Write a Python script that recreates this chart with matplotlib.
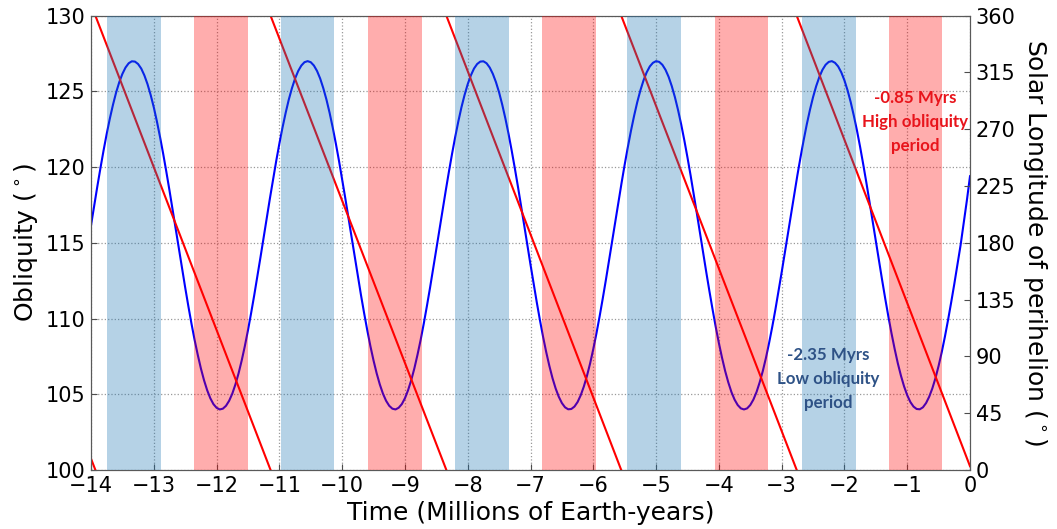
import numpy as np
import matplotlib
matplotlib.use('Agg')
import matplotlib.pyplot as plt

# obliquity read every 0.05 Myr from -14 to 0
obliquity_time = np.round(np.arange(-14.0, 0.025, 0.05), 2)
obliquity = [
    116.15, 117.44, 118.71, 119.93, 121.10, 122.20, 123.21, 124.12, 124.93, 125.61,
    126.16, 126.58, 126.86, 126.99, 126.97, 126.81, 126.51, 126.06, 125.48, 124.77,
    123.95, 123.01, 121.98, 120.87, 119.69, 118.46, 117.18, 115.89, 114.59, 113.30,
    112.05, 110.83, 109.67, 108.59, 107.61, 106.71, 105.93, 105.27, 104.74, 104.35,
    104.11, 104.00, 104.05, 104.24, 104.57, 105.04, 105.65, 106.38, 107.23, 108.18,
    109.23, 110.36, 111.55, 112.80, 114.07, 115.37, 116.67, 117.95, 119.20, 120.41,
    121.55, 122.61, 123.58, 124.46, 125.21, 125.85, 126.35, 126.71, 126.93, 127.00,
    126.93, 126.71, 126.35, 125.85, 125.21, 124.46, 123.59, 122.61, 121.55, 120.41,
    119.20, 117.95, 116.67, 115.37, 114.07, 112.80, 111.55, 110.36, 109.23, 108.18,
    107.23, 106.38, 105.65, 105.04, 104.57, 104.24, 104.05, 104.00, 104.11, 104.35,
    104.74, 105.27, 105.93, 106.71, 107.61, 108.59, 109.67, 110.83, 112.04, 113.30,
    114.59, 115.89, 117.18, 118.45, 119.69, 120.87, 121.98, 123.01, 123.95, 124.77,
    125.48, 126.06, 126.51, 126.81, 126.97, 126.99, 126.86, 126.58, 126.16, 125.61,
    124.93, 124.12, 123.21, 122.20, 121.10, 119.93, 118.71, 117.44, 116.15, 114.85,
    113.56, 112.30, 111.07, 109.90, 108.80, 107.79, 106.88, 106.07, 105.39, 104.84,
    104.42, 104.14, 104.01, 104.03, 104.19, 104.49, 104.94, 105.52, 106.23, 107.05,
    107.99, 109.02, 110.13, 111.31, 112.54, 113.82, 115.11, 116.41, 117.70, 118.95,
    120.17, 121.32, 122.40, 123.39, 124.29, 125.07, 125.73, 126.26, 126.65, 126.89,
    127.00, 126.95, 126.76, 126.43, 125.96, 125.35, 124.62, 123.77, 122.82, 121.77,
    120.64, 119.45, 118.20, 116.93, 115.63, 114.33, 113.05, 111.80, 110.60, 109.45,
    108.39, 107.42, 106.54, 105.79, 105.15, 104.65, 104.29, 104.07, 104.00, 104.07,
    104.29, 104.65, 105.15, 105.79, 106.54, 107.41, 108.39, 109.45, 110.59, 111.80,
    113.05, 114.33, 115.63, 116.92, 118.20, 119.45, 120.64, 121.77, 122.82, 123.77,
    124.62, 125.35, 125.95, 126.43, 126.76, 126.95, 127.00, 126.89, 126.65, 126.26,
    125.73, 125.07, 124.29, 123.39, 122.41, 121.33, 120.17, 118.96, 117.70, 116.41,
    115.11, 113.82, 112.55, 111.31, 110.13, 109.02, 107.99, 107.05, 106.23, 105.52,
    104.94, 104.49, 104.19, 104.03, 104.01, 104.14, 104.42, 104.84, 105.39, 106.07,
    106.88, 107.79, 108.80, 109.90, 111.07, 112.29, 113.56, 114.85, 116.30, 117.80,
    119.40,
]

# solar longitude of perihelion (sawtooth, nan = wrap from 0 to 360)
perihelion_time = [-14.0, -13.93, np.nan, -13.93, -11.14, np.nan, -11.14, -8.34, np.nan,
                   -8.34, -5.555, np.nan, -5.555, -2.76, np.nan, -2.76, 0.0]
perihelion_lon = [9, 0, np.nan, 360, 0, np.nan, 360, 0, np.nan,
                  360, 0, np.nan, 360, 0, np.nan, 360, 3]

# shaded periods (start, end) in Myr
high_obl_bands = [(-13.74, -12.885), (-10.98, -10.13), (-8.20, -7.35), (-5.46, -4.605), (-2.67, -1.82)]
low_obl_bands = [(-12.355, -11.505), (-9.59, -8.735), (-6.81, -5.96), (-4.06, -3.21), (-1.29, -0.44)]

x_ticks = list(range(-14, 1))
obl_ticks = [100, 105, 110, 115, 120, 125, 130]
lon_ticks = [0, 45, 90, 135, 180, 225, 270, 315, 360]

fig = plt.figure(figsize=(10.57, 5.29), dpi=100)
ax1 = fig.add_axes([0.0861, 0.1115, 0.8316, 0.8588])
ax2 = ax1.twinx()

ax1.plot(obliquity_time, obliquity, color='#0000ff', lw=1.5)
ax2.plot(perihelion_time, perihelion_lon, color='#ff0000', lw=1.5)

for a, b in high_obl_bands:
    ax2.axvspan(a, b, color='#1f77b4', alpha=0.33, lw=0, zorder=5)
for a, b in low_obl_bands:
    ax2.axvspan(a, b, color='#ff0000', alpha=0.32, lw=0, zorder=5)

ax1.set_xlim(-14, 0)
ax1.set_ylim(100, 130)
ax2.set_ylim(0, 360)
ax1.set_xticks(x_ticks)
ax1.set_yticks(obl_ticks)
ax2.set_yticks(lon_ticks)

ax1.grid(True, color='0.6', linestyle=':', lw=0.9)
for ax in (ax1, ax2):
    ax.tick_params(direction='in', labelsize=15, pad=4, length=4, color='0.3')
    for s in ax.spines.values():
        s.set_color('0.35')

ax1.set_xlabel('Time (Millions of Earth-years)', fontsize=18)
ax1.set_ylabel(r'Obliquity ($^\circ$)', fontsize=18)
ax2.set_ylabel(r'Solar Longitude of perihelion ($^\circ$)', fontsize=18, rotation=270, labelpad=24)

ax2.text(-0.88, 276, '-0.85 Myrs\nHigh obliquity\nperiod', color='#e8141b', fontsize=12.2,
         fontweight='bold', family='Lato', ha='center', va='center', linespacing=1.6, zorder=6)
ax2.text(-2.26, 72, '-2.35 Myrs\nLow obliquity\nperiod', color='#2e5286', fontsize=12.2,
         fontweight='bold', family='Lato', ha='center', va='center', linespacing=1.6, zorder=6)

fig.savefig('out.png', dpi=100)
